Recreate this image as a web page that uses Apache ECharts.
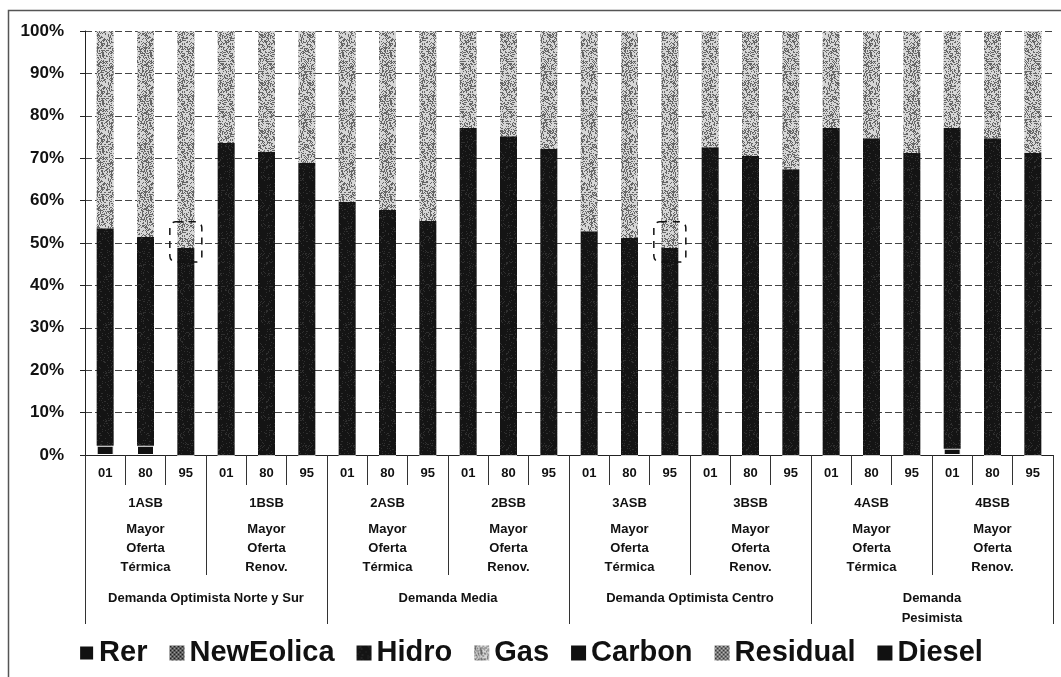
<!DOCTYPE html>
<html>
<head>
<meta charset="utf-8">
<script src="https://cdn.jsdelivr.net/npm/echarts@6/dist/echarts.min.js"></script>
<style>
  html, body { margin: 0; padding: 0; background: #fff; }
  #chart { width: 1061px; height: 677px; }
</style>
</head>
<body>
<div id="chart"></div>
<script>
// Generation mix per scenario (share of total, %)
const periods = ['01','80','95','01','80','95','01','80','95','01','80','95',
                 '01','80','95','01','80','95','01','80','95','01','80','95'];
const scenarios = ['1ASB','1BSB','2ASB','2BSB','3ASB','3BSB','4ASB','4BSB'];
const offers = ['Mayor\nOferta\nTérmica','Mayor\nOferta\nRenov.',
                'Mayor\nOferta\nTérmica','Mayor\nOferta\nRenov.',
                'Mayor\nOferta\nTérmica','Mayor\nOferta\nRenov.',
                'Mayor\nOferta\nTérmica','Mayor\nOferta\nRenov.'];
const demands = ['Demanda Optimista Norte y Sur','Demanda Media','Demanda Optimista Centro','Demanda\nPesimista'];

const rer       = [2.2, 2.2, 0,   0, 0, 0,   0, 0, 0,   0, 0, 0,   0, 0, 0,   0, 0, 0,   0, 0, 0,   1.5, 0, 0];
const newEolica = [0, 0, 0,   0, 0, 0,   0, 0, 0,   0, 0, 0,   0, 0, 0,   0, 0, 0,   0, 0, 0,   0, 0, 0];
const hidro     = [51.3, 49.2, 48.8,  73.6, 71.5, 68.9,  59.7, 57.8, 55.2,  77.1, 75.2, 72.2,
                   52.8, 51.2, 48.8,  72.6, 70.5, 67.4,  77.1, 74.7, 71.2,  75.6, 74.7, 71.2];
const gas       = [46.5, 48.6, 51.2,  26.4, 28.5, 31.1,  40.3, 42.2, 44.8,  22.9, 24.8, 27.8,
                   47.2, 48.8, 51.2,  27.4, 29.5, 32.6,  22.9, 25.3, 28.8,  22.9, 25.3, 28.8];
const carbon    = [0, 0, 0,   0, 0, 0,   0, 0, 0,   0, 0, 0,   0, 0, 0,   0, 0, 0,   0, 0, 0,   0, 0, 0];
const residual  = [0, 0, 0,   0, 0, 0,   0, 0, 0,   0, 0, 0,   0, 0, 0,   0, 0, 0,   0, 0, 0,   0, 0, 0];
const diesel    = [0, 0, 0,   0, 0, 0,   0, 0, 0,   0, 0, 0,   0, 0, 0,   0, 0, 0,   0, 0, 0,   0, 0, 0];

// bars outlined with a dashed frame, and the share range it spans
const flagged = [2, 14];
const flagRange = [45.5, 55];

// deterministic speckle texture for the patterned fills
function hash(x, y, s) {
  let h = Math.imul(x, 374761393) + Math.imul(y, 668265263) + Math.imul(s, 1442695041);
  h = Math.imul(h ^ (h >>> 13), 1274126177);
  h = h ^ (h >>> 16);
  return (h >>> 0) / 4294967296;
}
function speckle(base, dark, density, seed, size) {
  const c = document.createElement('canvas');
  c.width = size; c.height = size;
  const g = c.getContext('2d');
  g.fillStyle = base; g.fillRect(0, 0, size, size);
  g.fillStyle = dark;
  for (let y = 0; y < size; y++) {
    for (let x = 0; x < size; x++) {
      if (hash(x, y, seed) < density) g.fillRect(x, y, 1, 1);
    }
  }
  return { image: c, repeat: 'repeat' };
}
function checker(a, b) {
  const c = document.createElement('canvas');
  c.width = 4; c.height = 4;
  const g = c.getContext('2d');
  g.fillStyle = a; g.fillRect(0, 0, 4, 4);
  g.fillStyle = b; g.fillRect(0, 0, 2, 2); g.fillRect(2, 2, 2, 2);
  return { image: c, repeat: 'repeat' };
}

const gasFill = speckle('#d6d6d6', '#666666', 0.4, 7, 48);
const hidroFill = speckle('#141414', '#303030', 0.12, 3, 48);
const eolFill = checker('#9a9a9a', '#202020');
const resFill = checker('#b8b8b8', '#3a3a3a');

const chart = echarts.init(document.getElementById('chart'), null, { renderer: 'canvas' });

const labelFont = "'Liberation Sans Narrow', 'Arial Narrow', 'Liberation Sans', Arial, sans-serif";
const mainFont = "'Liberation Sans', Arial, sans-serif";

function bar(name, data, color, extra) {
  return Object.assign({
    name: name,
    type: 'bar',
    stack: 'total',
    barWidth: 17,
    data: data,
    itemStyle: { color: color },
    emphasis: { disabled: true }
  }, extra || {});
}

chart.setOption({
  animation: false,
  backgroundColor: '#fff',
  textStyle: { fontFamily: mainFont },
  grid: { left: 85, right: 8, top: 31, bottom: 222, containLabel: false },
  legend: {
    top: 637,
    left: 'center',
    padding: 0,
    itemGap: 22,
    itemWidth: 15,
    itemHeight: 15,
    icon: 'rect',
    selectedMode: false,
    textStyle: { fontFamily: mainFont, fontWeight: 'bold', fontSize: 29, color: '#111', lineHeight: 32 },
    data: ['Rer','NewEolica','Hidro','Gas','Carbon','Residual','Diesel']
  },
  xAxis: [
    {
      type: 'category',
      data: periods,
      position: 'bottom',
      axisLine: { show: true, lineStyle: { color: '#222', width: 1 } },
      axisTick: { show: true, interval: 0, length: 30, lineStyle: { color: '#333', width: 1 } },
      axisLabel: { interval: 0, margin: 12, fontFamily: labelFont, fontWeight: 'bold', fontSize: 13, color: '#111' }
    },
    {
      type: 'category',
      data: scenarios,
      position: 'bottom',
      axisLine: { show: false },
      axisTick: { show: true, interval: 0, length: 120, lineStyle: { color: '#333', width: 1 } },
      axisLabel: {
        interval: 0, margin: 31,
        fontFamily: labelFont, fontWeight: 'bold', fontSize: 13, color: '#111',
        formatter: function (v, i) {
          return '{s|' + v + '}\n' + offers[i].split('\n').map(function (t) { return '{o|' + t + '}'; }).join('\n');
        },
        rich: {
          s: { fontFamily: labelFont, fontWeight: 'bold', fontSize: 13, lineHeight: 34, color: '#111' },
          o: { fontFamily: labelFont, fontWeight: 'bold', fontSize: 13, lineHeight: 19, color: '#111' }
        }
      }
    },
    {
      type: 'category',
      data: demands,
      position: 'bottom',
      axisLine: { show: false },
      axisTick: { show: true, interval: 0, length: 169, lineStyle: { color: '#333', width: 1 } },
      axisLabel: {
        interval: 0, margin: 133,
        fontFamily: labelFont, fontWeight: 'bold', fontSize: 13, lineHeight: 20, color: '#111'
      }
    }
  ],
  yAxis: {
    type: 'value',
    min: 0, max: 100, interval: 10,
    axisLine: { show: true, lineStyle: { color: '#222', width: 1 } },
    axisTick: { show: true, length: 5, lineStyle: { color: '#222' } },
    axisLabel: { margin: 21, formatter: '{value}%', fontFamily: mainFont, fontWeight: 'bold', fontSize: 17, color: '#111' },
    splitLine: { show: true, lineStyle: { color: '#444', width: 1, type: [7, 3] } }
  },
  series: [
    bar('Rer', rer, '#111', { itemStyle: { color: '#111', borderColor: '#fff', borderWidth: 1 } }),
    bar('NewEolica', newEolica, eolFill),
    bar('Hidro', hidro, hidroFill),
    bar('Gas', gas, gasFill),
    bar('Carbon', carbon, '#111'),
    bar('Residual', residual, resFill),
    bar('Diesel', diesel, '#111')
  ]
});

// dashed frames around flagged bars, plus the outer chart frame
const graphics = flagged.map(function (idx) {
  const p1 = chart.convertToPixel({ gridIndex: 0 }, [idx, flagRange[1]]);
  const p0 = chart.convertToPixel({ gridIndex: 0 }, [idx, flagRange[0]]);
  return {
    type: 'rect',
    z: 100,
    shape: { x: p1[0] - 16, y: p1[1], width: 32, height: p0[1] - p1[1], r: 6 },
    style: { fill: null, stroke: '#111', lineWidth: 1.5, lineDash: [7, 6] }
  };
});
graphics.push({
  type: 'rect',
  z: 100,
  shape: { x: 8.5, y: 10.5, width: 1100, height: 700 },
  style: { fill: null, stroke: '#555', lineWidth: 1.5 }
});
chart.setOption({ graphic: graphics });
</script>
</body>
</html>
